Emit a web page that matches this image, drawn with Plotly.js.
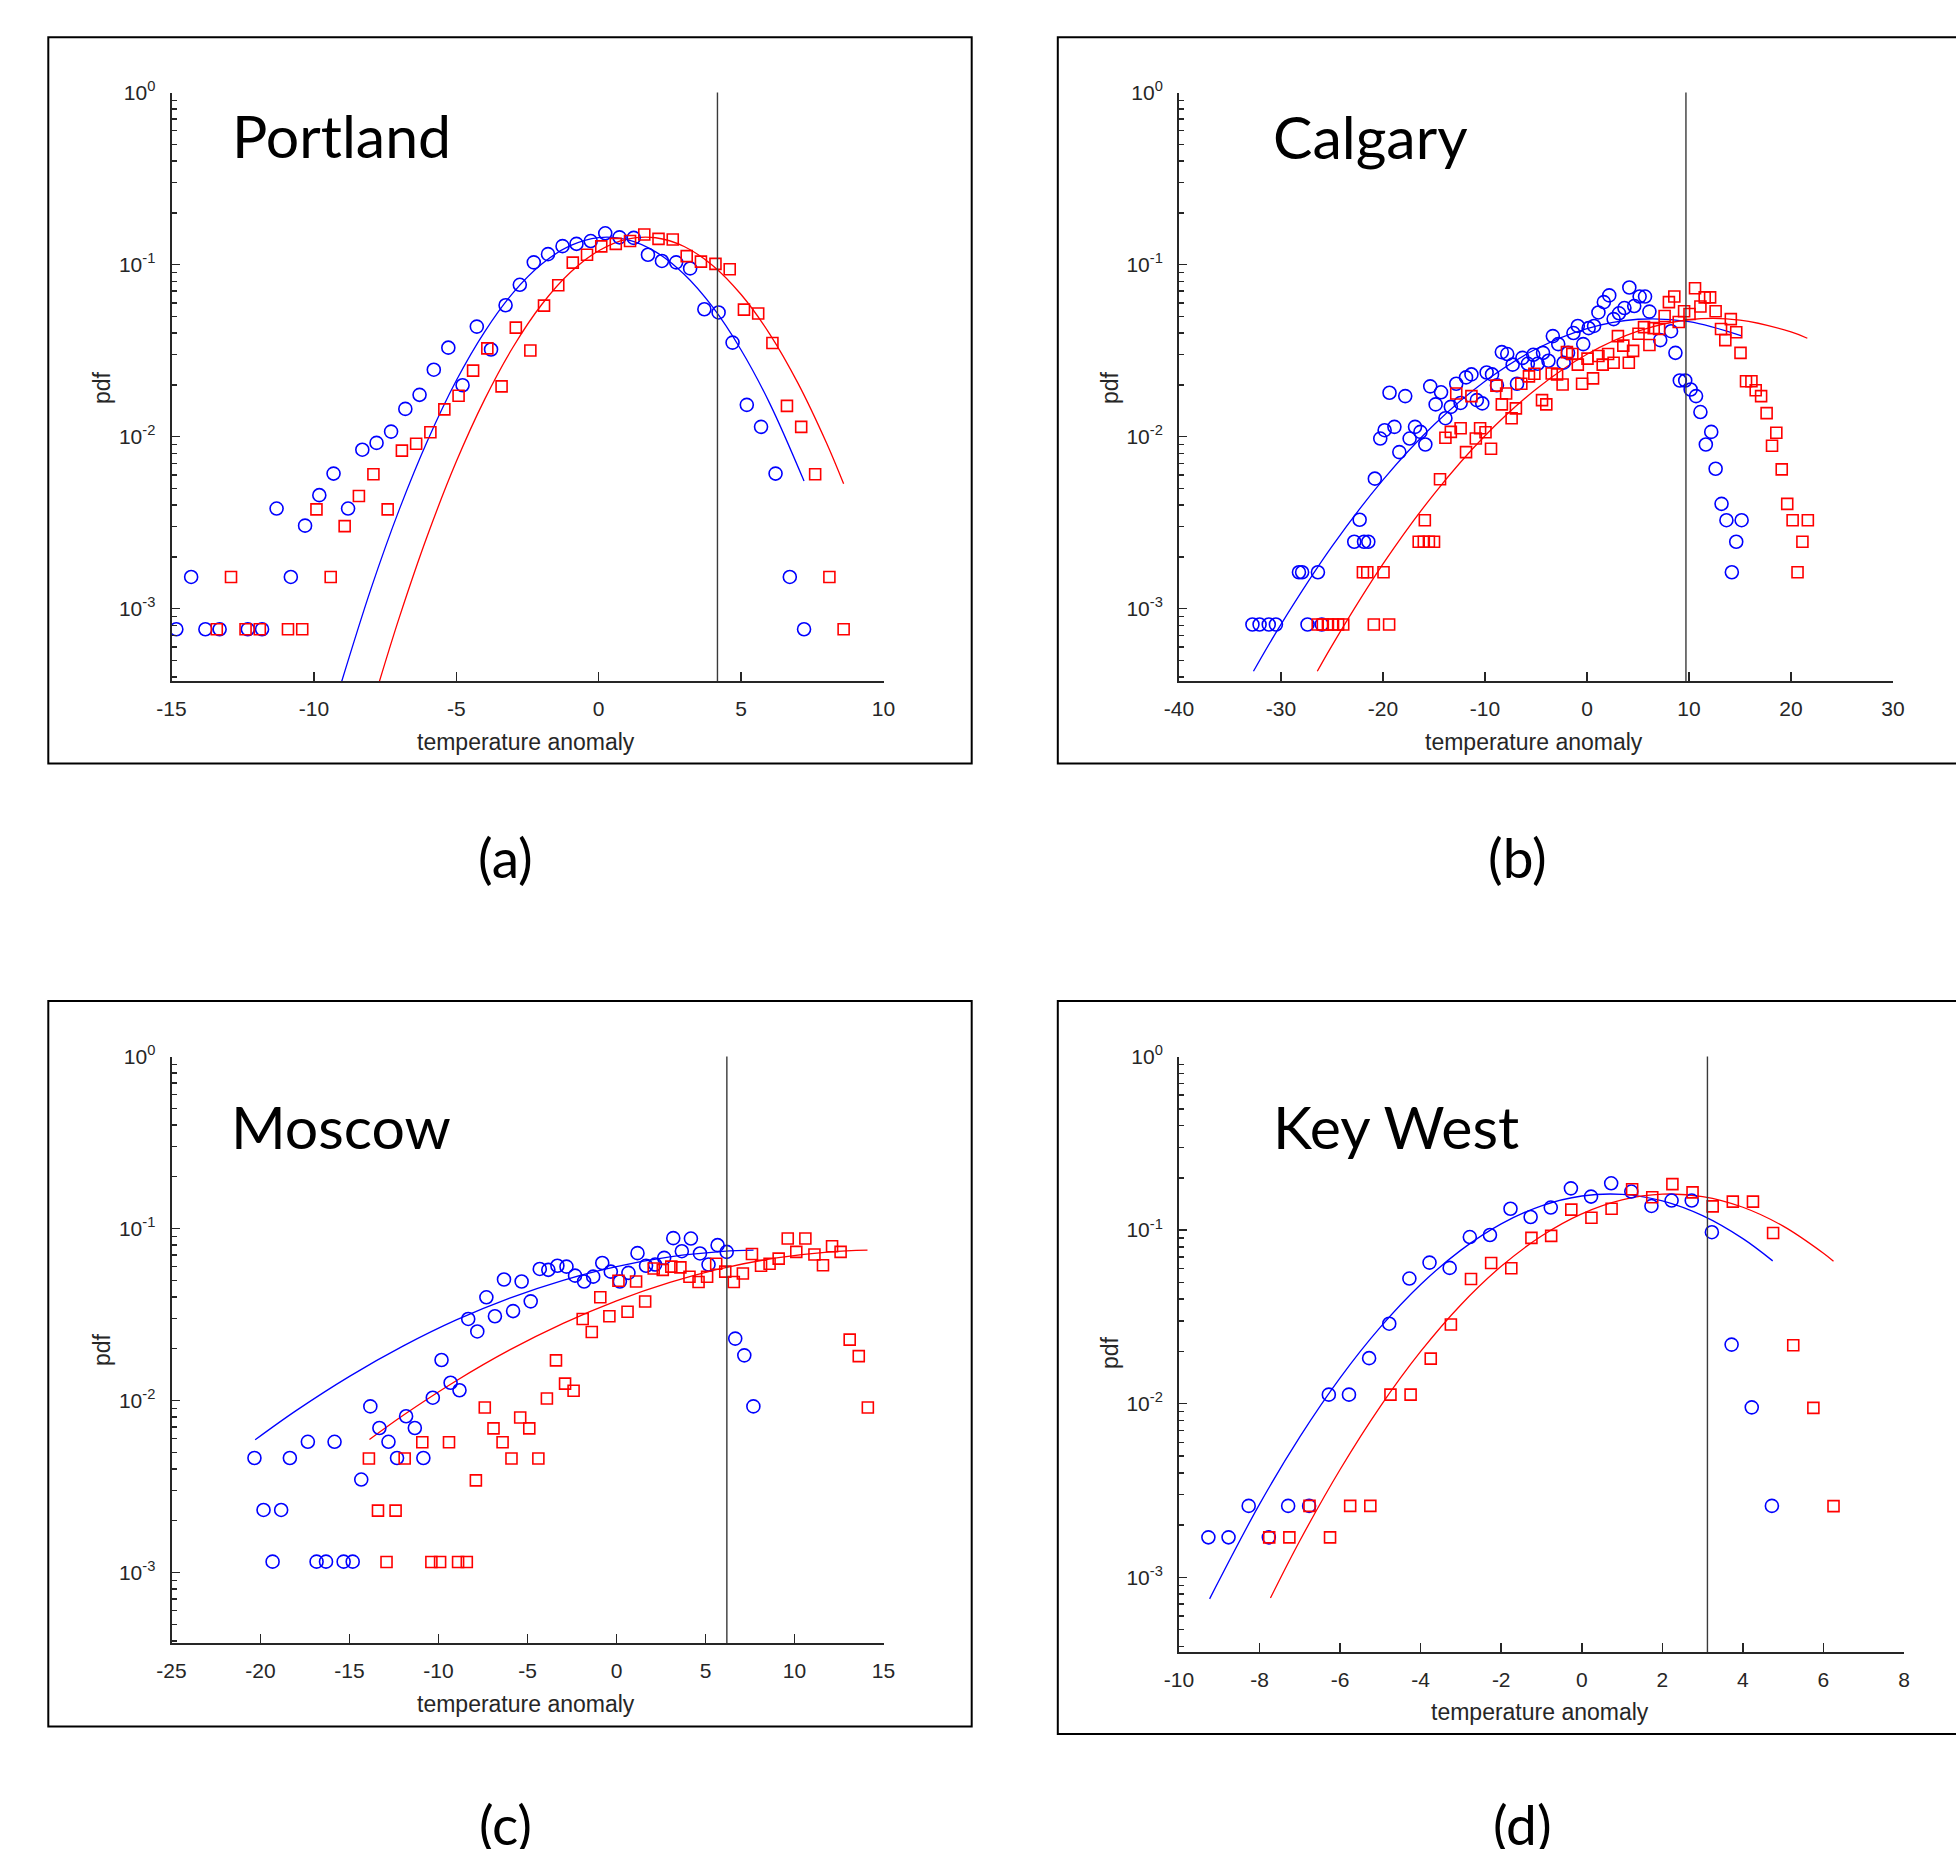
<!DOCTYPE html>
<html>
<head>
<meta charset="utf-8">
<script src="https://cdn.plot.ly/plotly-3.0.1.min.js"></script>
<style>html,body{margin:0;padding:0;background:#fff;}#chart{width:1956px;height:1849px;}</style>
</head>
<body>
<div id="chart"></div>
<script>
// ---------- DATA ----------
// Portland
const pdxBlueX = [-14.83,-14.31,-13.81,-13.31,-12.32,-11.82,-11.31,-10.81,-10.31,-9.81,-9.31,-8.80,-8.30,-7.80,-7.29,-6.79,-6.29,-5.79,-5.28,-4.78,-4.28,-3.78,-3.27,-2.77,-2.28,-1.78,-1.27,-0.78,-0.28,0.23,0.73,1.23,1.73,2.22,2.72,3.21,3.71,4.21,4.70,5.20,5.70,6.21,6.71,7.21];
const pdxBlueY = [0.00076,0.00153,0.00076,0.00076,0.00076,0.00076,0.00382,0.00153,0.00304,0.00457,0.0061,0.00382,0.0084,0.0092,0.0107,0.0145,0.0175,0.0245,0.0329,0.0199,0.0436,0.0321,0.058,0.0763,0.103,0.115,0.128,0.132,0.137,0.152,0.144,0.143,0.114,0.105,0.103,0.095,0.055,0.0527,0.0352,0.0153,0.0114,0.0061,0.00153,0.00076];
const pdxRedX = [-13.41,-12.91,-12.40,-11.90,-10.91,-10.41,-9.91,-9.41,-8.92,-8.42,-7.91,-7.41,-6.91,-6.41,-5.91,-5.42,-4.92,-4.41,-3.91,-3.41,-2.91,-2.40,-1.92,-1.42,-0.91,-0.41,0.09,0.60,1.10,1.60,2.10,2.60,3.09,3.59,4.10,4.60,5.10,5.60,6.10,6.61,7.11,7.60,8.10,8.60];
const pdxRedY = [0.00076,0.00153,0.00076,0.00076,0.00076,0.00076,0.00378,0.00153,0.00302,0.00452,0.00605,0.00378,0.0083,0.0091,0.0106,0.0144,0.0173,0.0242,0.0326,0.0196,0.043,0.0317,0.0577,0.0759,0.1026,0.114,0.1276,0.132,0.137,0.1496,0.141,0.140,0.112,0.104,0.101,0.094,0.0547,0.052,0.035,0.0151,0.0114,0.00605,0.00153,0.00076];
const pdxFitBlueX = [-9.05,-8,-7,-6,-5,-4,-3,-2,-1,0,1,2,3,4,5,6,7.21];
const pdxFitBlueY = [0.000366,0.00130,0.00378,0.00957,0.0212,0.0408,0.0687,0.1007,0.1288,0.1436,0.1397,0.1186,0.0878,0.0567,0.0319,0.01567,0.00552];
const pdxFitRedX = [-7.7,-7,-6,-5,-4,-3,-2,-1,0,1,2,3,4,5,6,7,8,8.6];
const pdxFitRedY = [0.000378,0.000891,0.00270,0.00716,0.01652,0.0333,0.0586,0.0899,0.1203,0.1406,0.1432,0.1274,0.0989,0.0670,0.0396,0.0204,0.00918,0.00532];

// Calgary
const yycBlueX = [-32.8,-32.1,-31.2,-30.5,-28.24,-27.93,-27.4,-26.38,-26.0,-22.82,-22.29,-21.86,-21.44,-20.8,-20.27,-19.84,-19.36,-18.88,-18.40,-17.82,-17.39,-16.86,-16.33,-15.85,-15.37,-14.84,-14.31,-13.88,-13.35,-12.82,-12.39,-11.86,-11.33,-10.80,-10.27,-9.84,-9.31,-8.83,-8.35,-7.82,-7.29,-6.86,-6.33,-5.80,-5.27,-4.84,-4.31,-3.78,-3.35,-2.82,-2.29,-1.86,-1.33,-0.90,-0.37,0.16,0.69,1.12,1.65,2.18,2.61,3.14,3.67,4.15,4.63,5.16,5.69,6.12,7.18,8.24,8.67,9.10,9.63,10.16,10.69,11.12,11.65,12.18,12.61,13.19,13.67,14.20,14.63,15.16];
const yycBlueY = [0.00081,0.00081,0.00081,0.00081,0.00163,0.00163,0.00081,0.00163,0.00081,0.00245,0.00329,0.00245,0.00245,0.0057,0.00975,0.0109,0.018,0.0114,0.00813,0.0172,0.00975,0.0114,0.01066,0.009,0.0196,0.0154,0.0181,0.0128,0.0149,0.0203,0.0157,0.0221,0.023,0.0163,0.0156,0.0236,0.023,0.0199,0.031,0.0302,0.0262,0.0203,0.0287,0.0265,0.0299,0.0265,0.0307,0.0276,0.0384,0.0345,0.0269,0.0307,0.040,0.044,0.0345,0.0427,0.044,0.0527,0.0605,0.0662,0.0482,0.0521,0.0559,0.0736,0.0574,0.0652,0.0652,0.0533,0.0364,0.041,0.0307,0.0212,0.0212,0.0188,0.0172,0.0139,0.009,0.01066,0.00651,0.00407,0.00327,0.00163,0.00245,0.00327];
const yycRedX = [-26.4,-25.9,-25.4,-24.9,-24.4,-23.9,-21.97,-21.54,-20.9,-19.95,-19.4,-16.5,-16.0,-15.9,-15.5,-15.0,-14.41,-13.88,-13.35,-12.82,-12.39,-11.86,-11.33,-10.90,-10.48,-9.95,-9.41,-8.88,-8.35,-7.93,-7.39,-6.97,-6.44,-5.69,-5.16,-4.41,-3.99,-3.46,-2.93,-2.39,-1.97,-1.44,-0.90,-0.48,0.05,0.59,1.12,1.54,2.07,2.61,3.03,3.56,4.10,4.52,5.05,5.59,6.12,6.54,7.07,7.61,8.03,8.56,8.99,9.52,10.05,10.59,11.12,11.54,12.07,12.61,13.14,13.56,14.10,14.63,15.05,15.59,16.12,16.54,17.07,17.61,18.14,18.56,19.09,19.63,20.16,20.64,21.12,21.65];
const yycRedY = [0.00081,0.00081,0.00081,0.00081,0.00081,0.00081,0.00163,0.00163,0.00081,0.00163,0.00081,0.00245,0.00245,0.00327,0.00245,0.00245,0.00565,0.00985,0.01066,0.0178,0.0112,0.00813,0.0172,0.00975,0.0112,0.0106,0.0085,0.0198,0.0154,0.0178,0.0128,0.0146,0.0203,0.0224,0.0232,0.0163,0.0154,0.0233,0.023,0.0201,0.031,0.0302,0.0262,0.0203,0.0284,0.0218,0.0294,0.0262,0.0302,0.0269,0.0384,0.0338,0.0269,0.0315,0.0396,0.0433,0.0341,0.0427,0.0422,0.0503,0.0605,0.0652,0.0464,0.0535,0.0516,0.0728,0.0571,0.0645,0.0645,0.0535,0.0422,0.0364,0.0482,0.0404,0.0307,0.021,0.021,0.0186,0.0172,0.0137,0.00885,0.01054,0.00645,0.00407,0.00327,0.00163,0.00245,0.00327];
const yycFitBlueX = [-32.7,-30,-25,-20,-15,-10,-5,0,5,10,15.16];
const yycFitBlueY = [0.000433,0.000811,0.00230,0.00561,0.01172,0.0210,0.0323,0.0425,0.0481,0.0466,0.0385];
const yycFitRedX = [-26.44,-25,-20,-15,-10,-5,0,5,10,15,20,21.6];
const yycFitRedY = [0.000433,0.000611,0.00182,0.00464,0.01012,0.01886,0.0301,0.0410,0.0478,0.0476,0.0406,0.0373];

// Moscow
const mowBlueX = [-20.34,-19.83,-19.32,-18.84,-18.35,-17.34,-16.85,-16.32,-15.84,-15.33,-14.82,-14.34,-13.83,-13.32,-12.81,-12.33,-11.82,-11.33,-10.85,-10.32,-9.83,-9.32,-8.82,-8.33,-7.82,-7.31,-6.83,-6.32,-5.81,-5.33,-4.82,-4.31,-3.83,-3.32,-2.81,-2.33,-1.82,-1.31,-0.80,-0.32,0.19,0.67,1.18,1.66,2.17,2.68,3.19,3.67,4.18,4.69,5.17,5.68,6.19,6.67,7.18,7.69];
const mowBlueY = [0.00463,0.00231,0.001156,0.00231,0.00463,0.00575,0.001156,0.001156,0.00575,0.001156,0.001156,0.00347,0.00924,0.00692,0.00575,0.00463,0.0081,0.00692,0.00463,0.01038,0.0172,0.01268,0.01147,0.0298,0.0252,0.0398,0.0309,0.0505,0.0331,0.0492,0.0377,0.0582,0.0575,0.0607,0.060,0.0532,0.0492,0.0525,0.063,0.0561,0.0492,0.0552,0.0719,0.0607,0.0617,0.0675,0.0879,0.0738,0.0874,0.0716,0.0617,0.080,0.0731,0.0229,0.0183,0.00924];
const mowRedX = [-13.91,-13.40,-12.92,-12.41,-11.90,-10.91,-10.40,-9.91,-9.41,-8.90,-8.41,-7.90,-7.40,-6.91,-6.40,-5.90,-5.41,-4.90,-4.39,-3.91,-3.40,-2.89,-2.41,-1.90,-1.39,-0.91,-0.40,0.11,0.62,1.10,1.61,2.09,2.60,3.08,3.59,4.10,4.61,5.09,5.60,6.11,6.59,7.10,7.61,8.12,8.60,9.11,9.62,10.10,10.61,11.12,11.60,12.11,12.59,13.10,13.61,14.12];
const mowRedY = [0.0046,0.00229,0.00115,0.00229,0.0046,0.00572,0.00115,0.00115,0.00572,0.00115,0.00115,0.00343,0.0091,0.00688,0.00572,0.0046,0.00796,0.00688,0.0046,0.01026,0.0171,0.01254,0.0114,0.0298,0.025,0.0398,0.0309,0.0497,0.0328,0.0492,0.0376,0.0585,0.0575,0.060,0.0594,0.0524,0.0489,0.0524,0.0624,0.0561,0.0489,0.0547,0.0711,0.0607,0.0624,0.0668,0.0874,0.0731,0.0874,0.0706,0.0611,0.0788,0.0731,0.0226,0.0181,0.0091];
const mowFitBlueX = [-20.3,-18,-15,-12,-9,-6,-3,0,3,6,7.7];
const mowFitBlueY = [0.00591,0.00873,0.01382,0.0207,0.0294,0.0394,0.0500,0.0601,0.0684,0.0736,0.0748];
const mowFitRedX = [-13.88,-12,-9,-6,-3,0,3,6,9,12,14.1];
const mowFitRedY = [0.00593,0.00818,0.01303,0.01968,0.0281,0.0380,0.0486,0.0589,0.0674,0.0731,0.0748];

// Key West
const eywBlueX = [-9.27,-8.77,-8.27,-7.77,-7.29,-6.77,-6.28,-5.78,-5.28,-4.78,-4.28,-3.78,-3.28,-2.78,-2.28,-1.77,-1.27,-0.77,-0.27,0.23,0.73,1.23,1.73,2.23,2.73,3.23,3.72,4.22,4.72];
const eywBlueY = [0.0017,0.0017,0.00258,0.0017,0.00258,0.00258,0.01128,0.01128,0.0183,0.0289,0.0526,0.065,0.0606,0.0912,0.0937,0.1328,0.119,0.1349,0.174,0.156,0.186,0.1668,0.1378,0.148,0.148,0.0973,0.0219,0.00953,0.00258];
const eywRedX = [-7.76,-7.26,-6.76,-6.25,-5.75,-5.25,-4.75,-4.25,-3.75,-3.25,-2.75,-2.25,-1.75,-1.25,-0.76,-0.26,0.24,0.74,1.25,1.75,2.25,2.75,3.25,3.75,4.25,4.75,5.25,5.75,6.25];
const eywRedY = [0.0017,0.0017,0.00258,0.0017,0.00258,0.00258,0.01128,0.01128,0.0182,0.0286,0.0523,0.0647,0.0603,0.0902,0.0927,0.1313,0.1178,0.1328,0.172,0.1545,0.184,0.165,0.137,0.146,0.146,0.0962,0.0217,0.00946,0.00257];
const eywFitBlueX = [-9.24,-8,-7,-6,-5,-4,-3,-2,-1,0,1,2,3,4,4.74];
const eywFitBlueY = [0.000752,0.00264,0.00644,0.01409,0.0276,0.0486,0.0767,0.1086,0.138,0.1572,0.1607,0.1473,0.1211,0.0893,0.0665];
const eywFitRedX = [-7.73,-7,-6,-5,-4,-3,-2,-1,0,1,2,3,4,5,6,6.25];
const eywFitRedY = [0.00076,0.001625,0.00418,0.00966,0.0200,0.0372,0.0619,0.0925,0.1241,0.1493,0.1611,0.156,0.1354,0.1054,0.0736,0.0662];

// Thresholds (vertical reference lines)
const thresholds = [4.17, 9.7, 6.2, 3.12];
const cityNames = ["Portland", "Calgary", "Moscow", "Key West"];
const panelLabels = ["(a)", "(b)", "(c)", "(d)"];

// Tick labels
const xTickValsA = [-15,-10,-5,0,5,10];
const xTickValsB = [-40,-30,-20,-10,0,10,20,30];
const xTickValsC = [-25,-20,-15,-10,-5,0,5,10,15];
const xTickValsD = [-10,-8,-6,-4,-2,0,2,4,6,8];
const yTickVals = [0.001, 0.01, 0.1, 1];
const yTickText = ["10<sup>-3</sup>","10<sup>-2</sup>","10<sup>-1</sup>","10<sup>0</sup>"];
const yMinorVals = [0.0004,0.0005,0.0006,0.0007,0.0008,0.0009,0.002,0.003,0.004,0.005,0.006,0.007,0.008,0.009,0.02,0.03,0.04,0.05,0.06,0.07,0.08,0.09,0.2,0.3,0.4,0.5,0.6,0.7,0.8,0.9];
const xAxisTitle = "temperature anomaly";
const yAxisTitle = "pdf";

// ---------- LAYOUT ----------
const W = 1956, H = 1849;
const px = v => v / W;
const py = v => 1 - v / H;
const AX = '#262626';
const tickFont = {family: 'Liberation Sans, Arial, sans-serif', size: 21, color: AX};
const labFont = {family: 'Liberation Sans, Arial, sans-serif', size: 23, color: AX};
const bigFont = {family: 'Lato, Open Sans, sans-serif', size: 59, color: '#000'};
const panFont = {family: 'Lato, Open Sans, sans-serif', size: 55, color: '#000'};

const panels = [
  {x0:171.5, x1:883.5, yTop:92.5, yBot:681, xr:[-15,10], xt:xTickValsA, yr:[-3.42,0],
   frame:[48.3,37.3,971.7,763.4], title:[230,135], lab:[505,857], xl:[526,742], yl:[102,388]},
  {x0:1179, x1:1893, yTop:92.5, yBot:681, xr:[-40,30], xt:xTickValsB, yr:[-3.42,0],
   frame:[1057.8,37.3,1990,763.4], title:[1271,136], lab:[1517,857], xl:[1534,742], yl:[1110,388]},
  {x0:171.5, x1:883.5, yTop:1056.5, yBot:1643, xr:[-25,15], xt:xTickValsC, yr:[-3.41,0],
   frame:[48.3,1001,971.7,1726.4], title:[229,1126], lab:[505,1824], xl:[526,1704], yl:[102,1350]},
  {x0:1179, x1:1904, yTop:1056.5, yBot:1652, xr:[-10,8], xt:xTickValsD, yr:[-3.43,0],
   frame:[1057.8,1001,1990,1734], title:[1271,1126], lab:[1522,1824], xl:[1540,1712], yl:[1110,1353]}
];

const series = [
  [pdxBlueX,pdxBlueY,pdxRedX,pdxRedY,pdxFitBlueX,pdxFitBlueY,pdxFitRedX,pdxFitRedY],
  [yycBlueX,yycBlueY,yycRedX,yycRedY,yycFitBlueX,yycFitBlueY,yycFitRedX,yycFitRedY],
  [mowBlueX,mowBlueY,mowRedX,mowRedY,mowFitBlueX,mowFitBlueY,mowFitRedX,mowFitRedY],
  [eywBlueX,eywBlueY,eywRedX,eywRedY,eywFitBlueX,eywFitBlueY,eywFitRedX,eywFitRedY]
];

const traces = [];
const layout = {
  width: W, height: H, margin: {l:0,r:0,t:0,b:0},
  paper_bgcolor: '#fff', plot_bgcolor: 'rgba(0,0,0,0)',
  showlegend: false, hovermode: false,
  shapes: [], annotations: []
};

panels.forEach((p, i) => {
  const n = i === 0 ? '' : String(i + 1);
  const xa = 'x' + n, ya = 'y' + n;
  const s = series[i];
  traces.push({x:s[4], y:s[5], xaxis:xa, yaxis:ya, type:'scatter', mode:'lines',
    line:{color:'#0000ff', width:1.3, shape:'spline'}});
  traces.push({x:s[6], y:s[7], xaxis:xa, yaxis:ya, type:'scatter', mode:'lines',
    line:{color:'#ff0000', width:1.3, shape:'spline'}});
  traces.push({x:s[0], y:s[1], xaxis:xa, yaxis:ya, type:'scatter', mode:'markers',
    marker:{symbol:'circle-open', size:13, color:'#0000ff', line:{width:1.6, color:'#0000ff'}}});
  traces.push({x:s[2], y:s[3], xaxis:xa, yaxis:ya, type:'scatter', mode:'markers',
    marker:{symbol:'square-open', size:11, color:'#ff0000', line:{width:1.6, color:'#ff0000'}}});

  layout['xaxis' + n] = {
    domain:[px(p.x0), px(p.x1)], anchor: ya, range:p.xr,
    tickmode:'array', tickvals:p.xt, ticktext:p.xt.map(v => String(v)),
    ticks:'inside', ticklen:9, tickwidth:1.5, tickcolor:AX,
    showline:true, linecolor:AX, linewidth:2, mirror:false,
    showgrid:false, zeroline:false, tickfont:tickFont, ticklabelstandoff:8, fixedrange:true
  };
  layout['yaxis' + n] = {
    domain:[py(p.yBot), py(p.yTop)], anchor: xa, type:'log', range:p.yr,
    tickmode:'array', tickvals:yTickVals, ticktext:yTickText,
    ticks:'inside', ticklen:8, tickwidth:1.5, tickcolor:AX,
    minor:{tickmode:'array', tickvals:yMinorVals, ticks:'inside', ticklen:5, tickwidth:1.5, tickcolor:AX, showgrid:false},
    showline:true, linecolor:AX, linewidth:2, mirror:false,
    showgrid:false, zeroline:false, tickfont:tickFont, ticklabelstandoff:10, fixedrange:true
  };

  // outer frame
  layout.shapes.push({type:'rect', xref:'paper', yref:'paper',
    x0:px(p.frame[0]), x1:px(p.frame[2]), y0:py(p.frame[3]), y1:py(p.frame[1]),
    line:{color:'#000', width:2}, fillcolor:'rgba(0,0,0,0)', layer:'below'});
  // threshold line
  layout.shapes.push({type:'line', xref:xa, yref:ya + ' domain',
    x0:thresholds[i], x1:thresholds[i], y0:0, y1:1,
    line:{color:'#3a3a3a', width:1.4}});

  layout.annotations.push({text:cityNames[i], xref:'paper', yref:'paper',
    x:px(p.title[0]), y:py(p.title[1]), xanchor:'left', yanchor:'middle', showarrow:false, font:bigFont});
  layout.annotations.push({text:panelLabels[i], xref:'paper', yref:'paper',
    x:px(p.lab[0]), y:py(p.lab[1]), xanchor:'center', yanchor:'middle', showarrow:false, font:panFont});
  layout.annotations.push({text:xAxisTitle, xref:'paper', yref:'paper',
    x:px(p.xl[0]), y:py(p.xl[1]), xanchor:'center', yanchor:'middle', showarrow:false, font:labFont});
  layout.annotations.push({text:yAxisTitle, xref:'paper', yref:'paper', textangle:-90,
    x:px(p.yl[0]), y:py(p.yl[1]), xanchor:'center', yanchor:'middle', showarrow:false, font:labFont});
});

Plotly.newPlot('chart', traces, layout, {staticPlot:true, displayModeBar:false});
</script>
</body>
</html>
